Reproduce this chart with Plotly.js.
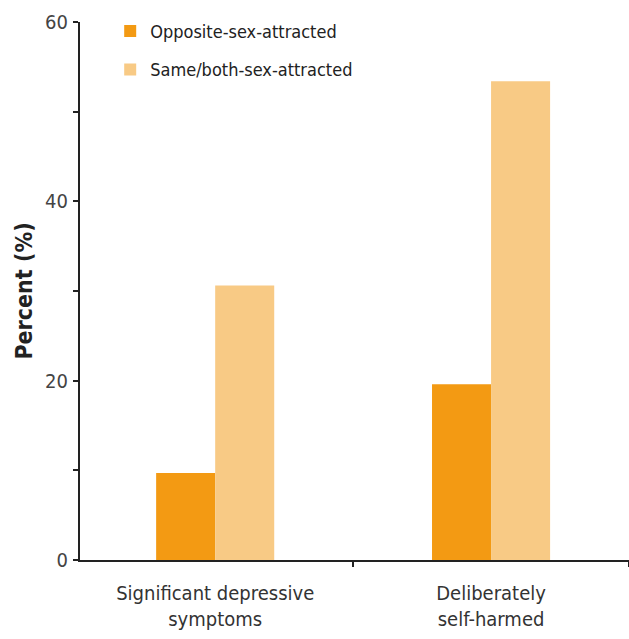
<!DOCTYPE html>
<html>
<head>
<meta charset="utf-8">
<script src="https://cdn.plot.ly/plotly-3.0.1.min.js"></script>
<style>html,body{margin:0;padding:0;background:#fff;}#chart{width:629px;height:639px;}</style>
</head>
<body>
<div id="chart"></div>
<script>
const categories = ["Significant depressive<br>symptoms", "Deliberately<br>self-harmed"];
const seriesNames = ["Opposite-sex-attracted", "Same/both-sex-attracted"];
const oppositeValues = [9.7, 19.6];
const sameBothValues = [30.6, 53.4];
const yTickVals = [0, 20, 40, 60];
const yTickText = ["0", "20", "40", "60"];

const FONT = "'DejaVu Sans Condensed', 'Liberation Sans Narrow', sans-serif";

const traces = [
  {type: "bar", name: seriesNames[0], x: categories, y: oppositeValues,
   marker: {color: "#f39a13"}, legendgroup: "a", hoverinfo: "y"},
  {type: "bar", name: seriesNames[1], x: categories, y: sameBothValues,
   marker: {color: "#f8ca85"}, legendgroup: "b", hoverinfo: "y"}
];

const layout = {
  width: 629, height: 639,
  margin: {l: 80, r: 0, t: 22, b: 79, pad: 0},
  paper_bgcolor: "#fff", plot_bgcolor: "#fff",
  barmode: "group", bargap: 0.572, bargroupgap: 0,
  font: {family: FONT, color: "#333", size: 18},
  showlegend: true,
  legend: {x: 0.055, y: 1.017, xanchor: "left", yanchor: "top", bgcolor: "rgba(0,0,0,0)",
           font: {family: FONT, size: 18, color: "#222"}, traceorder: "grouped", tracegroupgap: 12,
           itemwidth: 30},
  xaxis: {type: "category", range: [-0.49, 1.5], showline: true, linecolor: "#222", linewidth: 2,
          ticks: "outside", tickson: "boundaries", ticklen: 5, tickwidth: 2, tickcolor: "#222",
          ticklabelstandoff: 14,
          showgrid: false, zeroline: false, tickfont: {family: FONT, size: 20, color: "#333"}},
  yaxis: {range: [0, 60], showline: true, linecolor: "#222", linewidth: 2,
          tickmode: "array", tickvals: yTickVals, ticktext: yTickText,
          ticks: "outside", ticklen: 5, tickwidth: 2, tickcolor: "#222",
          minor: {dtick: 10, ticks: "outside", ticklen: 5, tickwidth: 2, tickcolor: "#222", showgrid: false},
          showgrid: false, zeroline: false, ticklabelstandoff: 1,
          tickfont: {family: FONT, size: 20, color: "#444"},
          title: {text: "<b>Percent (%)</b>", standoff: 6, font: {family: FONT, size: 23, color: "#222"}}}
};

Plotly.newPlot("chart", traces, layout, {displayModeBar: false, staticPlot: true});
</script>
</body>
</html>
